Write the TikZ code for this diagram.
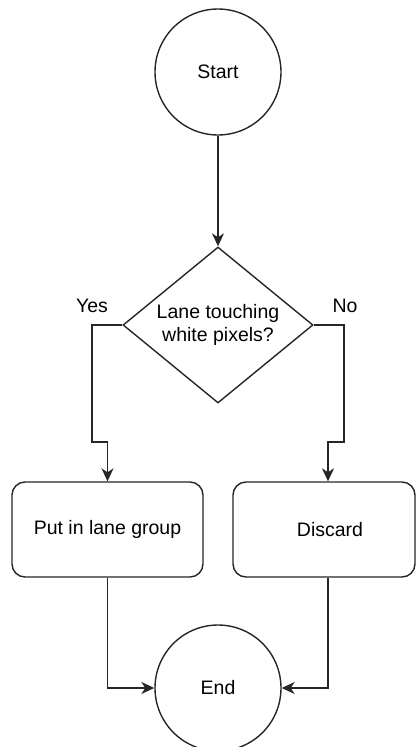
\documentclass[tikz,border=0pt]{standalone}
\usepackage{fontspec}
\setmainfont{Liberation Sans}
\usetikzlibrary{shapes.geometric,arrows.meta}
\begin{document}
\begin{tikzpicture}[x=1pt,y=-1pt,
  every node/.style={font=\fontsize{19.5}{23}\selectfont},
  ln/.style={line width=1.4pt, draw=black!85},
  arr/.style={ln, -{Stealth[length=13pt,width=12pt,inset=4pt]}},
  circ/.style={ln, circle, minimum size=126pt, inner sep=0pt},
  dia/.style={ln, diamond, minimum width=190pt, minimum height=156pt, shape aspect=1.218, inner sep=0pt, align=center},
  box/.style={ln, rectangle, rounded corners=13pt, minimum width=191pt, minimum height=95pt, inner sep=0pt},
  lbl/.style={inner sep=0pt}]
\useasboundingbox (0,0) rectangle (416,747);
\node[circ] (start) at (218,72) {Start};
\node[dia] (dec) at (218,325) {Lane touching\\white pixels?};
\node[box] (put) at (107.5,529.5) {Put in lane group};
\node[box, minimum width=182pt, label={[xshift=6pt]center:Discard}] (disc) at (324,529.5) {};
\node[circ] (end) at (218,688) {End};
\node[lbl] (yes) at (92,306) {Yes};
\node[lbl] (no) at (345,306) {No};
\coordinate (l1) at (92,325);
\coordinate (l2) at (92,442);
\coordinate (l3) at (107.5,442);
\coordinate (r1) at (344,325);
\coordinate (r2) at (344,442);
\coordinate (r3) at (328,442);
\draw[arr] (start) -- (dec);
\draw[arr] (dec.west) -- (l1) -- (l2) -- (l3) -- (put.north);
\draw[arr] (dec.east) -- (r1) -- (r2) -- (r3) -- (r3 |- disc.north);
\draw[arr] (put.south) |- (end.west);
\draw[arr] (r3 |- disc.south) |- (end.east);
\end{tikzpicture}
\end{document}
